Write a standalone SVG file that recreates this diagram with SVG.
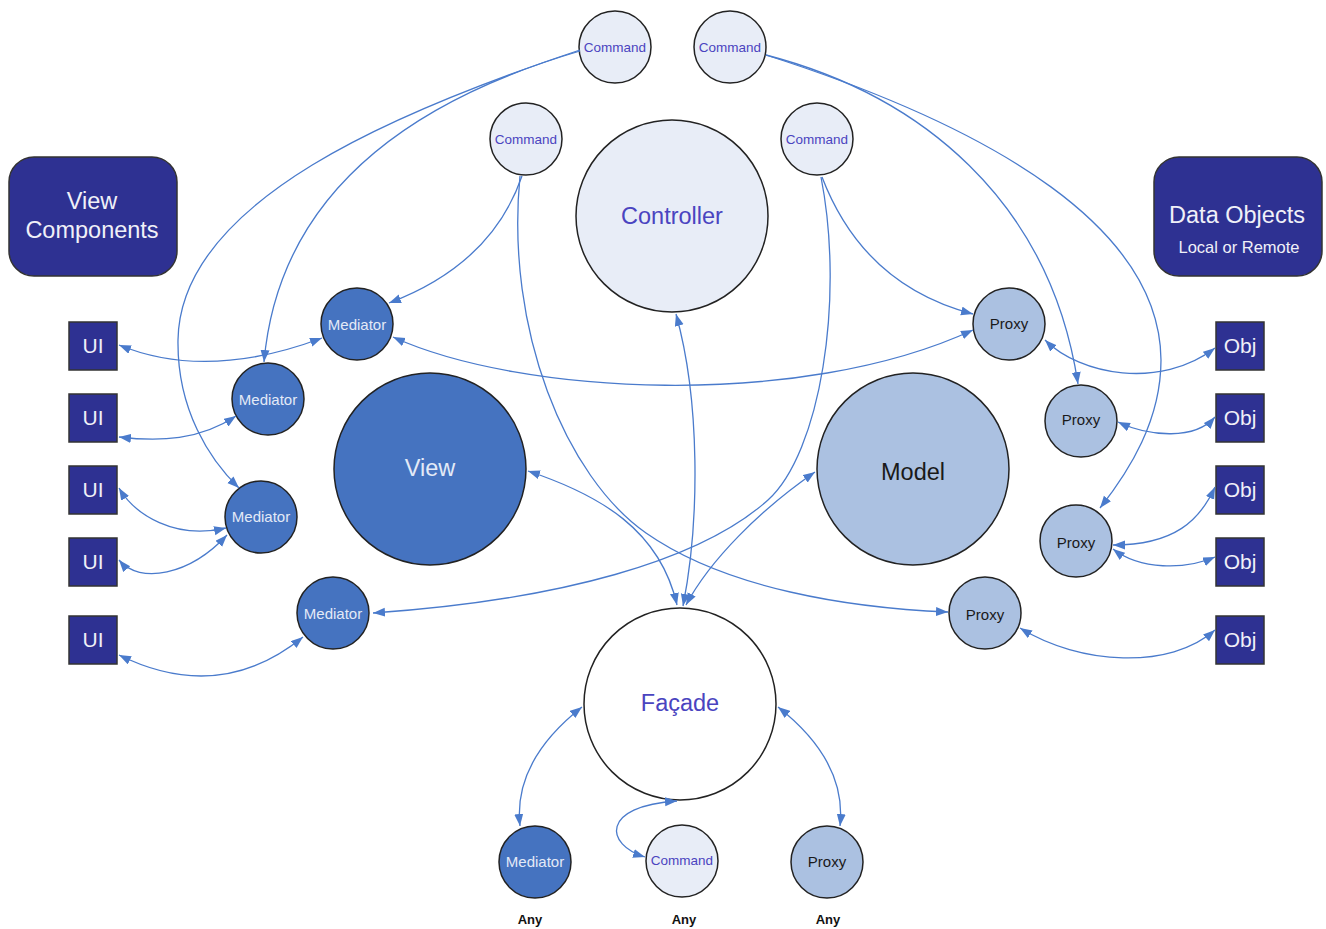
<svg xmlns="http://www.w3.org/2000/svg" width="1326" height="929" viewBox="0 0 1326 929">
<style>
.bg{fill:#ffffff}
.cmd{fill:#e8edf7;stroke:#222;stroke-width:1.5}
.med{fill:#4573c0;stroke:#222;stroke-width:1.5}
.prx{fill:#abc1e1;stroke:#222;stroke-width:1.5}
.fac{fill:#ffffff;stroke:#222;stroke-width:1.5}
.box{fill:#2e3192;stroke:#333;stroke-width:1.5}
text{font-family:"Liberation Sans",Arial,sans-serif;text-anchor:middle}
.tc{fill:#4a44c0;font-size:13.5px}
.tm{fill:#e3eaf7;font-size:15px}
.tp{fill:#1a1a1a;font-size:15px}
.tb{fill:#f0f0f8;font-size:21px}
.big{font-size:23.5px}
.any{font-size:13px;font-weight:bold;fill:#111}
.c{fill:none;stroke:#4a7bcc;stroke-width:1.3}
.e{marker-end:url(#ah)}
.b{marker-end:url(#ah);marker-start:url(#ah)}
</style>
<defs>
<marker id="ah" markerUnits="userSpaceOnUse" markerWidth="13" markerHeight="10" refX="12" refY="4.5" orient="auto-start-reverse">
<path d="M0,0 L12,4.5 L0,9 z" fill="#4a7bcc"/>
</marker>
</defs>
<rect class="bg" x="0" y="0" width="1326" height="929"/>

<g id="view-components"><rect class="box" x="9" y="157" width="168" height="119" rx="25"/><text class="tb big" x="92" y="209">View</text><text class="tb big" x="92" y="238">Components</text></g>
<g id="data-objects"><rect class="box" x="1154" y="157" width="168" height="119" rx="25"/><text class="tb big" x="1237" y="223">Data Objects</text><text class="tb" style="font-size:16.5px" x="1239" y="253">Local or Remote</text></g>

<g id="cmd-a"><circle class="cmd" cx="615" cy="47" r="36"/><text class="tc" x="615" y="52">Command</text></g>
<g id="cmd-b"><circle class="cmd" cx="730" cy="47" r="36"/><text class="tc" x="730" y="52">Command</text></g>
<g id="cmd-c"><circle class="cmd" cx="526" cy="139" r="36"/><text class="tc" x="526" y="144">Command</text></g>
<g id="cmd-d"><circle class="cmd" cx="817" cy="139" r="36"/><text class="tc" x="817" y="144">Command</text></g>
<g id="controller"><circle class="cmd" cx="672" cy="216" r="96"/><text class="tc big" x="672" y="224">Controller</text></g>
<g id="view"><circle class="med" cx="430" cy="469" r="96"/><text class="tm big" x="430" y="476">View</text></g>
<g id="model"><circle class="prx" cx="913" cy="469" r="96"/><text class="tp big" x="913" y="480">Model</text></g>
<g id="facade"><circle class="fac" cx="680" cy="704" r="96"/><text class="tc big" x="680" y="711">Façade</text></g>

<g id="med-1"><circle class="med" cx="357" cy="324" r="36"/><text class="tm" x="357" y="330">Mediator</text></g>
<g id="med-2"><circle class="med" cx="268" cy="399" r="36"/><text class="tm" x="268" y="405">Mediator</text></g>
<g id="med-3"><circle class="med" cx="261" cy="517" r="36"/><text class="tm" x="261" y="522">Mediator</text></g>
<g id="med-4"><circle class="med" cx="333" cy="613" r="36"/><text class="tm" x="333" y="619">Mediator</text></g>

<g id="proxy-1"><circle class="prx" cx="1009" cy="324" r="36"/><text class="tp" x="1009" y="329">Proxy</text></g>
<g id="proxy-2"><circle class="prx" cx="1081" cy="421" r="36"/><text class="tp" x="1081" y="425">Proxy</text></g>
<g id="proxy-3"><circle class="prx" cx="1076" cy="541" r="36"/><text class="tp" x="1076" y="548">Proxy</text></g>
<g id="proxy-4"><circle class="prx" cx="985" cy="613" r="36"/><text class="tp" x="985" y="620">Proxy</text></g>

<g id="ui-1"><rect class="box" x="69" y="322" width="48" height="48"/><text class="tb" x="93" y="353">UI</text></g>
<g id="ui-2"><rect class="box" x="69" y="394" width="48" height="48"/><text class="tb" x="93" y="425">UI</text></g>
<g id="ui-3"><rect class="box" x="69" y="466" width="48" height="48"/><text class="tb" x="93" y="497">UI</text></g>
<g id="ui-4"><rect class="box" x="69" y="538" width="48" height="48"/><text class="tb" x="93" y="569">UI</text></g>
<g id="ui-5"><rect class="box" x="69" y="616" width="48" height="48"/><text class="tb" x="93" y="647">UI</text></g>

<g id="obj-1"><rect class="box" x="1216" y="322" width="48" height="48"/><text class="tb" x="1240" y="353">Obj</text></g>
<g id="obj-2"><rect class="box" x="1216" y="394" width="48" height="48"/><text class="tb" x="1240" y="425">Obj</text></g>
<g id="obj-3"><rect class="box" x="1216" y="466" width="48" height="48"/><text class="tb" x="1240" y="497">Obj</text></g>
<g id="obj-4"><rect class="box" x="1216" y="538" width="48" height="48"/><text class="tb" x="1240" y="569">Obj</text></g>
<g id="obj-5"><rect class="box" x="1216" y="616" width="48" height="48"/><text class="tb" x="1240" y="647">Obj</text></g>

<g id="any-mediator"><circle class="med" cx="535" cy="862" r="36"/><text class="tm" x="535" y="867">Mediator</text><text class="any" x="530" y="924">Any</text></g>
<g id="any-command"><circle class="cmd" cx="682" cy="861" r="36"/><text class="tc" x="682" y="865">Command</text><text class="any" x="684" y="924">Any</text></g>
<g id="any-proxy"><circle class="prx" cx="827" cy="862" r="36"/><text class="tp" x="827" y="867">Proxy</text><text class="any" x="828" y="924">Any</text></g>

<g id="connectors">
<path class="c e" d="M580,51 C430,95 280,180 264,362"/>
<path class="c e" d="M580,50 C400,110 180,200 178,340 C177,410 210,460 239,488"/>
<path class="c e" d="M522,176 C500,240 450,280 389,303"/>
<path class="c e" d="M520,176 C505,330 566,477 646,533 C726,589 850,608 948,612"/>
<path class="c e" d="M822,177 C850,250 900,295 973,314"/>
<path class="c e" d="M821,177 C845,300 820,453 768,500 C700,561 560,600 373,613"/>
<path class="c e" d="M766,55 C920,95 1050,200 1078,384"/>
<path class="c e" d="M766,55 C1000,130 1160,230 1161,360 C1161,420 1130,470 1100,508"/>
<path class="c b" d="M676,314 C700,400 700,520 683,606"/>
<path class="c b" d="M528,471 C600,495 660,530 677,605"/>
<path class="c b" d="M815,472 C760,510 710,560 686,605"/>
<path class="c b" d="M393,337 C520,395 800,410 973,330"/>
<path class="c b" d="M119,345 C180,370 250,365 322,338"/>
<path class="c b" d="M119,437 C160,442 200,440 236,416"/>
<path class="c b" d="M119,488 C135,515 175,540 226,528"/>
<path class="c b" d="M119,560 C140,585 190,575 227,535"/>
<path class="c b" d="M119,655 C190,690 250,680 303,637"/>
<path class="c b" d="M1045,340 C1080,375 1160,390 1215,348"/>
<path class="c b" d="M1118,422 C1150,437 1195,440 1215,417"/>
<path class="c b" d="M1113,545 C1175,545 1200,520 1215,487"/>
<path class="c b" d="M1113,549 C1140,570 1185,570 1215,557"/>
<path class="c b" d="M1020,628 C1080,665 1170,670 1215,630"/>
<path class="c b" d="M582,707 C540,740 515,780 520,826"/>
<path class="c b" d="M778,707 C820,740 845,780 840,826"/>
<path class="c b" d="M677,801 C600,806 605,845 645,857"/>
</g>
</svg>
